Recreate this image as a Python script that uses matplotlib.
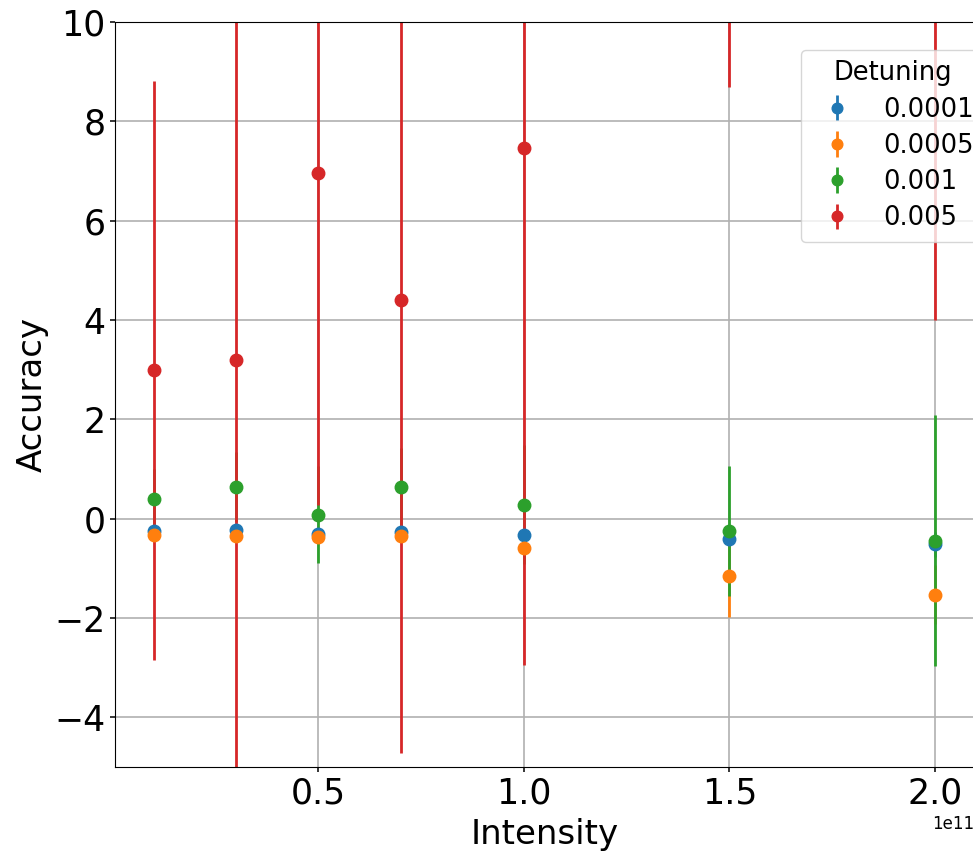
import numpy as np
import matplotlib
matplotlib.use("Agg")
import matplotlib.pyplot as plt
from matplotlib.ticker import MultipleLocator

# intensity values (x, in units of 1e11 handled by offset text)
intensity = np.array([0.1, 0.3, 0.5, 0.7, 1.0, 1.5, 2.0]) * 1e11
detunings = ["0.0001", "0.0005", "0.001", "0.005"]

acc_0001 = [-0.25, -0.23, -0.30, -0.27, -0.33, -0.41, -0.52]
err_0001 = [0.05, 0.05, 0.06, 0.05, 0.08, 0.15, 0.25]

acc_0005 = [-0.32, -0.35, -0.37, -0.35, -0.59, -1.15, -1.53]
err_0005 = [0.08, 0.09, 0.10, 0.10, 0.25, 0.83, 0.60]

acc_001 = [0.39, 0.64, 0.08, 0.63, 0.28, -0.25, -0.44]
err_001 = [0.60, 0.70, 0.98, 0.80, 1.20, 1.31, 2.52]

acc_005 = [2.99, 3.19, 6.96, 4.41, 7.47, 15.0, 12.0]
err_005 = [5.83, 9.50, 6.69, 9.12, 10.42, 6.30, 8.00]

series = [(acc_0001, err_0001), (acc_0005, err_0005),
          (acc_001, err_001), (acc_005, err_005)]
colors = ["tab:blue", "tab:orange", "tab:green", "tab:red"]

fig = plt.figure(figsize=(9.73, 8.51), dpi=100)
ax = fig.add_axes([115 / 973, 1 - 767 / 851, 1 - 115 / 973 + 0.001, (767 - 22) / 851])

for lab, (acc, err), c in zip(detunings, series, colors):
    ax.errorbar(intensity, acc, yerr=err, fmt="o", color=c, markersize=9,
                elinewidth=2, label=lab)

ax.set_ylim(-5, 10)
ax.xaxis.set_major_locator(MultipleLocator(0.5e11))
ax.grid(True, color="#b0b0b0", linewidth=1.2)
ax.set_xlabel("Intensity", fontsize=24.5, labelpad=5)
ax.set_ylabel("Accuracy", fontsize=24.5)
ax.tick_params(axis="both", labelsize=25, width=1.1)
ax.xaxis.get_offset_text().set_fontsize(12)

leg = ax.legend(title="Detuning", fontsize=18.5, title_fontsize=18.5,
                loc="upper left", bbox_to_anchor=(801 / 973, 1 - 50 / 851),
                bbox_transform=fig.transFigure, borderaxespad=0,
                labelspacing=0.4, markerscale=0.85)

fig.savefig("out.png", dpi=100)
